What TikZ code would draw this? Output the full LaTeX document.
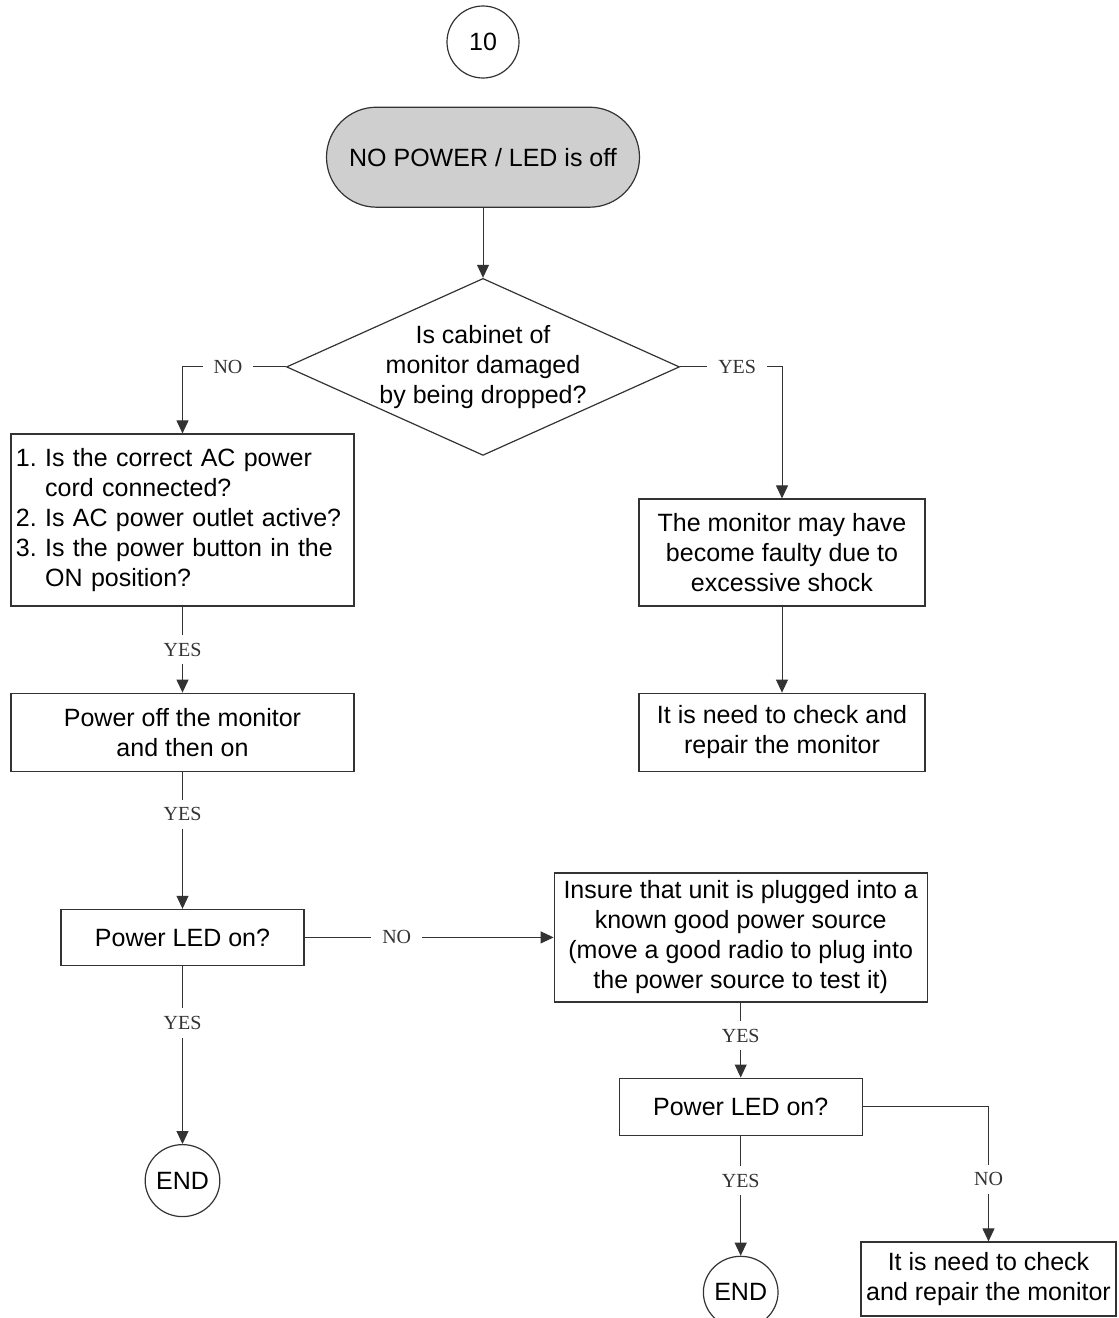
\documentclass[tikz,border=0pt]{standalone}
\usepackage{fontspec}
\setmainfont{Liberation Sans}
\newfontfamily\lblfont{Liberation Serif}
\usepackage{tikz}
\usetikzlibrary{shapes.geometric, arrows.meta, positioning}
\colorlet{BoxLine}{black!80}
\colorlet{StartFill}{black!19}

\begin{document}
\frenchspacing
\begin{tikzpicture}[
    x=1pt, y=-1pt,
    every node/.style={font=\fontsize{25}{30}\selectfont},
    box/.style={
        rectangle, draw=BoxLine, line width=1.2pt, fill=white,
        align=center, inner xsep=4pt, inner ysep=2pt
    },
    terminal/.style={
        rectangle, rounded corners=50pt, draw=BoxLine, line width=1.2pt,
        fill=StartFill, minimum width=313pt, minimum height=100pt
    },
    connector/.style={
        ellipse, draw=BoxLine, line width=1.2pt, inner sep=0pt,
        minimum width=#1, minimum height=72pt
    },
    connector/.default={72pt},
    decision/.style={
        diamond, aspect=2.22, draw=BoxLine, line width=1.2pt,
        minimum width=393pt, minimum height=177pt, inner sep=0pt,
        align=center
    },
    arr/.style={-{Triangle[length=13pt, width=12pt]}, line width=1pt, BoxLine},
    lbl/.style={font=\lblfont\fontsize{20}{24}\selectfont, fill=white,
                inner xsep=11pt, inner ysep=8pt}
]
\useasboundingbox (0,0) rectangle (1119,1318);
\clip (0,0) rectangle (1119,1318);

% ===================================================================
% ENTRY
% ===================================================================
\node[connector] (c10) at (483,42) {10};

\node[terminal, below=28pt of c10] (start)
    {NO POWER / LED is off};

\node[decision, below=70pt of start] (dmd)
    {Is cabinet of\\monitor damaged\\by being dropped?};

% ===================================================================
% LEFT BRANCH: not dropped
% ===================================================================
\node[box, align=left, text width=333pt, inner xsep=5pt,
      minimum height=172pt] (q1) at (182.5,520)
    {1. Is the correct AC power\\
     \hphantom{1.}\ cord connected?\\
     2. Is AC power outlet active?\\
     3. Is the power button in the\\
     \hphantom{3.}\ ON position?};

\node[box, minimum width=343pt, minimum height=78pt, below=86pt of q1] (act1)
    {Power off the monitor\\and then on};

\node[box, minimum width=243pt, minimum height=56pt, below=137pt of act1] (led1)
    {Power LED on?};

\node[connector=66pt, below=178pt of led1] (end1) {END};

% ===================================================================
% RIGHT BRANCH: dropped
% ===================================================================
\node[box, minimum width=286pt, minimum height=107pt] (dmg) at (782,552.5)
    {The monitor may have\\become faulty due to\\excessive shock};

\node[box, minimum width=286pt, minimum height=78pt, below=86pt of dmg] (chk)
    {It is need to check and\\repair the monitor};

% ===================================================================
% POWER SOURCE CHECK
% ===================================================================
\node[box, minimum width=373pt, minimum height=129pt, right=249pt of led1] (plug)
    {Insure that unit is plugged into a\\known good power source\\
     (move a good radio to plug into\\the power source to test it)};

\node[box, minimum width=243pt, minimum height=57pt, below=75pt of plug] (led2)
    {Power LED on?};

\node[connector=66pt, below=120pt of led2] (end2) {END};

\node[box, minimum width=255pt, minimum height=74pt] (rep) at (988.5,1279)
    {It is need to check\\and repair the monitor};

% ===================================================================
% ARROWS
% ===================================================================
\draw[arr] (start) -- (dmd);
\draw[arr] (dmd.west) -| node[lbl, pos=0.28] {NO} (q1.north);
\draw[arr] (dmd.east) -| node[lbl, pos=0.28] {YES} (dmg.north);

\draw[arr] (q1) -- node[lbl] {YES} (act1);
\draw[arr] (act1) -- node[lbl, pos=0.31] {YES} (led1);
\draw[arr] (led1) -- node[lbl, pos=0.32] {YES} (end1);
\draw[arr] (led1) -- node[lbl, pos=0.37] {NO} (plug);

\draw[arr] (dmg) -- (chk);

\draw[arr] (plug) -- node[lbl, pos=0.44] {YES} (led2);
\draw[arr] (led2) -- node[lbl, pos=0.375] {YES} (end2);
\draw[arr] (led2.east) -| node[lbl, pos=0.77] {NO} (rep.north);

\end{tikzpicture}
\end{document}
